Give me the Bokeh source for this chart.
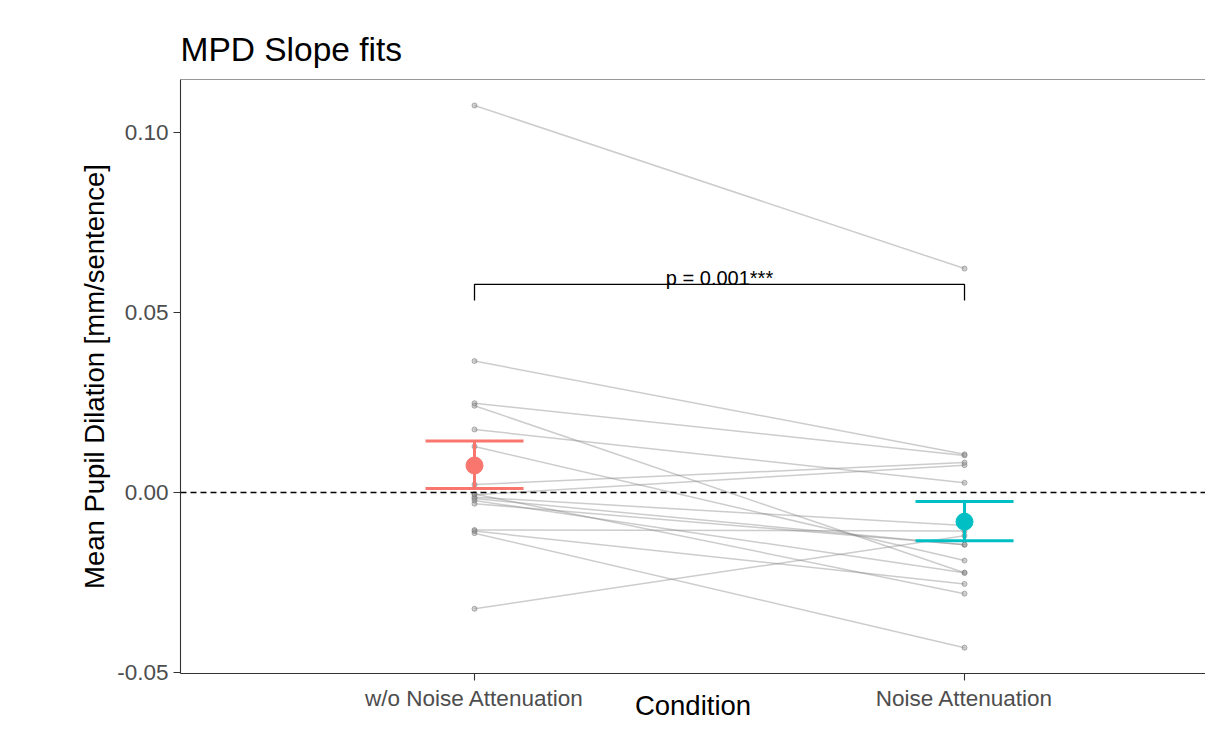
from bokeh.plotting import figure
from bokeh.models import Range1d, FixedTicker, Label, Span, PrintfTickFormatter
from bokeh.embed import file_html
from bokeh.resources import INLINE

# ---- data ----
conditions = ["w/o Noise Attenuation", "Noise Attenuation"]
cond_x = [1, 2]
slope_wo_na = [0.1075, 0.0365, 0.0248, 0.0241, 0.0175, 0.0128, 0.0022, -0.0006,
               -0.0013, -0.0022, -0.0031, -0.0104, -0.0107, -0.0113, -0.0323,
               -0.0004, -0.0017]
slope_na = [0.0622, 0.0106, 0.0103, -0.0223, 0.0027, -0.0189, 0.0083, 0.0076,
            -0.0092, -0.0223, -0.0145, -0.0107, -0.0254, -0.0431, -0.0120,
            -0.0281, -0.0145]
mean_vals = [0.0075, -0.0081]
err_low = [0.0011, -0.0134]
err_high = [0.0143, -0.0025]
cond_colors = ["#F8766D", "#00BFC4"]
y_ticks = [-0.05, 0.0, 0.05, 0.10]
p_label = "p = 0.001***"
bracket_top = 0.0578
bracket_bottom = 0.0533
p_label_y = 0.0597

FONT = "Liberation Sans"

p = figure(width=1205, height=725,
           x_range=Range1d(0.4, 2.4918), y_range=Range1d(-0.05028, 0.11472),
           output_backend="svg", toolbar_location=None,
           min_border_left=180, min_border_top=79, min_border_bottom=52,
           min_border_right=0)
p.background_fill_color = "white"
p.border_fill_color = "white"
p.outline_line_color = None
p.xgrid.visible = False
p.ygrid.visible = False

# title
p.title.text = "MPD Slope fits"
p.title.text_font = FONT
p.title.text_font_size = "33.5px"
p.title.text_font_style = "normal"
p.title.text_color = "black"
p.title.align = "left"
p.title.standoff = 23

# axes
for ax in (p.xaxis[0], p.yaxis[0]):
    ax.axis_line_color = "#333333"
    ax.axis_line_width = 1.1
    ax.major_tick_line_color = "#333333"
    ax.major_tick_line_width = 1.1
    ax.major_tick_out = 7
    ax.major_tick_in = 0
    ax.minor_tick_out = 0
    ax.minor_tick_in = 0
    ax.major_label_text_font = FONT
    ax.major_label_text_font_size = "22.5px"
    ax.major_label_text_color = "#4D4D4D"
    ax.major_label_standoff = 5
    ax.axis_label_text_font = FONT
    ax.axis_label_text_font_size = "27.5px"
    ax.axis_label_text_font_style = "normal"
    ax.axis_label_text_color = "black"

p.yaxis.ticker = FixedTicker(ticks=y_ticks)
p.yaxis.formatter = PrintfTickFormatter(format="%.2f")
p.yaxis.axis_label = "Mean Pupil Dilation [mm/sentence]"
p.yaxis.axis_label_standoff = 4

p.xaxis.ticker = FixedTicker(ticks=cond_x)
p.xaxis.major_label_overrides = {cx: c for cx, c in zip(cond_x, conditions)}
p.xaxis.axis_label = "Condition"
p.xaxis.axis_label_standoff = -24

# top panel border
p.add_layout(Span(location=p.y_range.end, dimension="width",
                  line_color="#333333", line_width=1.1))

# zero reference line
p.add_layout(Span(location=0, dimension="width", line_color="black",
                  line_width=1.4, line_dash="6 4"))

# individual subject lines and points
for a, b in zip(slope_wo_na, slope_na):
    p.line(x=cond_x, y=[a, b], line_color="grey", line_alpha=0.4, line_width=1.5)
p.scatter(x=[cond_x[0]] * len(slope_wo_na), y=slope_wo_na, size=5,
          fill_color="grey", fill_alpha=0.35, line_color="grey", line_alpha=0.6)
p.scatter(x=[cond_x[1]] * len(slope_na), y=slope_na, size=5,
          fill_color="grey", fill_alpha=0.35, line_color="grey", line_alpha=0.6)

# error bars and means
cap = 0.1
p.segment(x0=cond_x, y0=err_low, x1=cond_x, y1=err_high,
          line_color=cond_colors, line_width=3)
p.segment(x0=[c - cap for c in cond_x], y0=err_low, x1=[c + cap for c in cond_x],
          y1=err_low, line_color=cond_colors, line_width=3)
p.segment(x0=[c - cap for c in cond_x], y0=err_high, x1=[c + cap for c in cond_x],
          y1=err_high, line_color=cond_colors, line_width=3)
p.scatter(x=cond_x, y=mean_vals, size=17, fill_color=cond_colors,
          line_color=cond_colors)

# significance bracket
p.line(x=[cond_x[0], cond_x[0], cond_x[1], cond_x[1]],
       y=[bracket_bottom, bracket_top, bracket_top, bracket_bottom],
       line_color="black", line_width=1.3)
p.add_layout(Label(x=(cond_x[0] + cond_x[1]) / 2, y=p_label_y, text=p_label,
                   text_align="center", text_baseline="alphabetic",
                   text_font=FONT, text_font_size="20px", text_color="black"))

open("out.html", "w").write(file_html(p, INLINE))
